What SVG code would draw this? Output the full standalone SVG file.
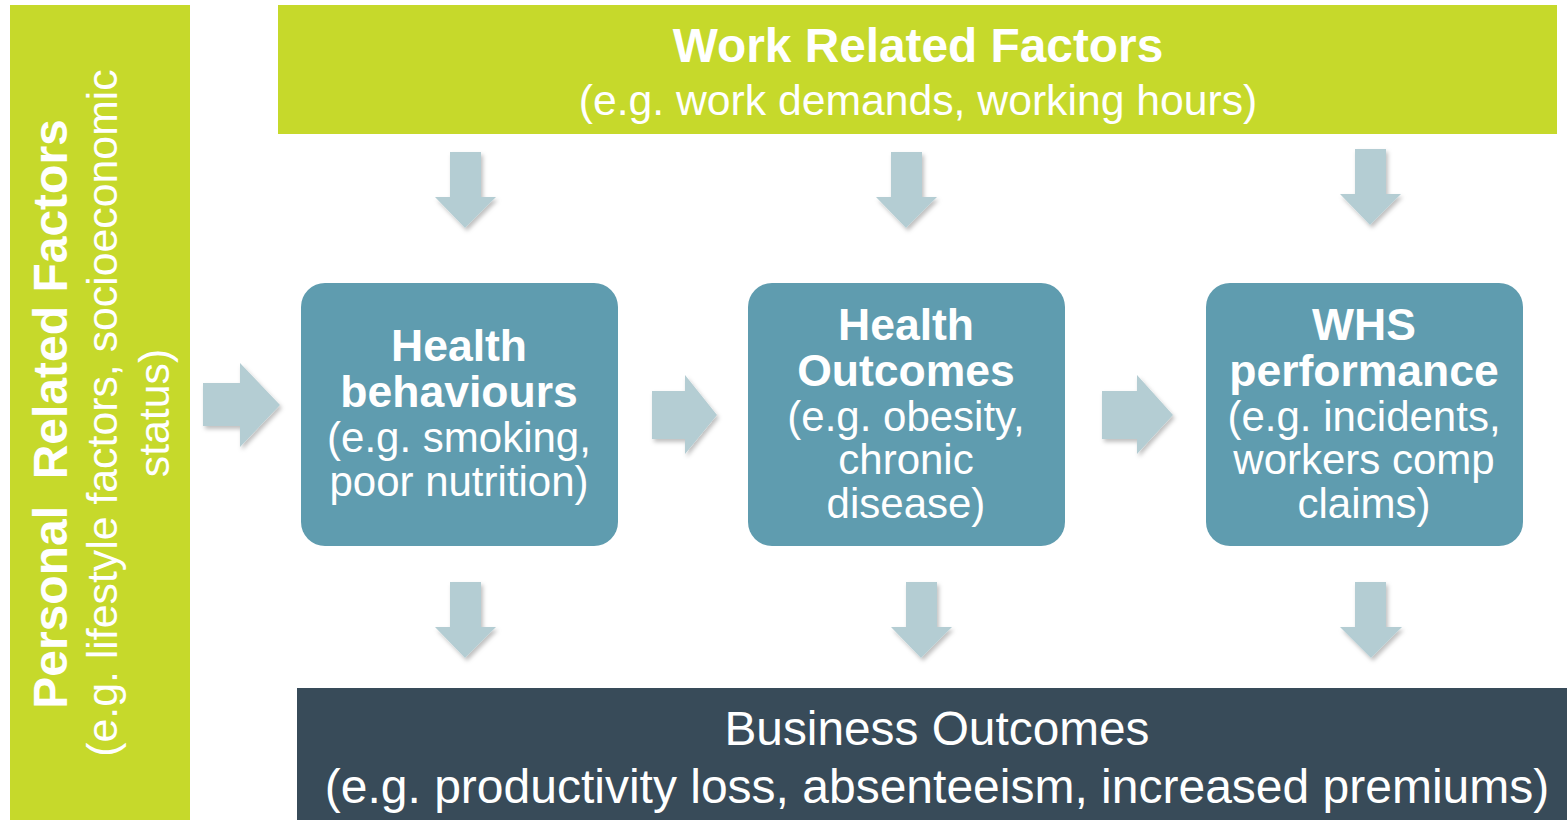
<svg xmlns="http://www.w3.org/2000/svg" width="1567" height="820" viewBox="0 0 1567 820">
  <defs>
    <style>
      .green { fill: #c6d92b; }
      .box { fill: #5f9caf; }
      .dark { fill: #384b59; }
      .arrow { fill: #b4cdd3; filter: url(#shadow); }
      text { font-family: "Liberation Sans", Arial, sans-serif; fill: #ffffff; text-anchor: middle; }
      .b { font-weight: bold; }
    </style>
    <filter id="shadow" x="-30%" y="-30%" width="160%" height="160%">
      <feDropShadow dx="2" dy="3" stdDeviation="2" flood-color="#000" flood-opacity="0.25"/>
    </filter>
  </defs>

  <rect width="1567" height="820" fill="#ffffff"/>

  <!-- left column: personal factors -->
  <g id="personal">
    <rect class="green" x="10" y="5" width="180" height="815"/>
    <text class="b" font-size="48" transform="translate(67,414) rotate(-90)" xml:space="preserve">Personal  Related Factors</text>
    <text font-size="42.8" transform="translate(117,413) rotate(-90)">(e.g. lifestyle factors, socioeconomic</text>
    <text font-size="42.8" transform="translate(169,413) rotate(-90)">status)</text>
  </g>

  <!-- top band: work factors -->
  <g id="work">
    <rect class="green" x="278" y="5" width="1279" height="129"/>
    <text class="b" x="918" y="62" font-size="47.8">Work Related Factors</text>
    <text x="918" y="115" font-size="42.7">(e.g. work demands, working hours)</text>
  </g>

  <!-- middle boxes -->
  <g id="health-behaviours">
    <rect class="box" x="301" y="283" width="317" height="263" rx="24"/>
    <text class="b" x="459" y="361" font-size="44.5">Health</text>
    <text class="b" x="459" y="407" font-size="44.5">behaviours</text>
    <text x="459" y="452" font-size="42">(e.g. smoking,</text>
    <text x="459" y="496" font-size="42">poor nutrition)</text>
  </g>

  <g id="health-outcomes">
    <rect class="box" x="748" y="283" width="317" height="263" rx="24"/>
    <text class="b" x="906" y="340" font-size="44.5">Health</text>
    <text class="b" x="906" y="386" font-size="44.5">Outcomes</text>
    <text x="906" y="431" font-size="42">(e.g. obesity,</text>
    <text x="906" y="474" font-size="42">chronic</text>
    <text x="906" y="518" font-size="42">disease)</text>
  </g>

  <g id="whs-performance">
    <rect class="box" x="1206" y="283" width="317" height="263" rx="24"/>
    <text class="b" x="1364" y="340" font-size="44.5">WHS</text>
    <text class="b" x="1364" y="386" font-size="44.5">performance</text>
    <text x="1364" y="431" font-size="42">(e.g. incidents,</text>
    <text x="1364" y="474" font-size="42">workers comp</text>
    <text x="1364" y="518" font-size="42">claims)</text>
  </g>

  <!-- bottom band: business outcomes -->
  <g id="business">
    <rect class="dark" x="297" y="688" width="1270" height="132"/>
    <text x="937" y="745" font-size="47.8">Business Outcomes</text>
    <text x="937" y="803" font-size="48">(e.g. productivity loss, absenteeism, increased premiums)</text>
  </g>

  <!-- block arrows -->
  <g id="connectors">
    <!-- down from work factors -->
    <polygon class="arrow" points="450,152 481,152 481,197 496,197 465,228 435,197 450,197"/>
    <polygon class="arrow" points="891,152 922,152 922,197 937,197 906,228 876,197 891,197"/>
    <polygon class="arrow" points="1355,149 1386,149 1386,194 1401,194 1370,225 1340,194 1355,194"/>
    <!-- down to business outcomes -->
    <polygon class="arrow" points="450,582 481,582 481,627 496,627 465,658 435,627 450,627"/>
    <polygon class="arrow" points="906,582 937,582 937,627 952,627 921,658 891,627 906,627"/>
    <polygon class="arrow" points="1355,582 1386,582 1386,627 1402,627 1371,658 1340,627 1355,627"/>
    <!-- left to right -->
    <polygon class="arrow" points="203,383 240,383 240,363 280,405 240,447 240,426 203,426"/>
    <polygon class="arrow" points="652,391 685,391 685,375 717,415 685,454 685,439 652,439"/>
    <polygon class="arrow" points="1102,391 1137,391 1137,375 1173,415 1137,454 1137,439 1102,439"/>
  </g>
</svg>
